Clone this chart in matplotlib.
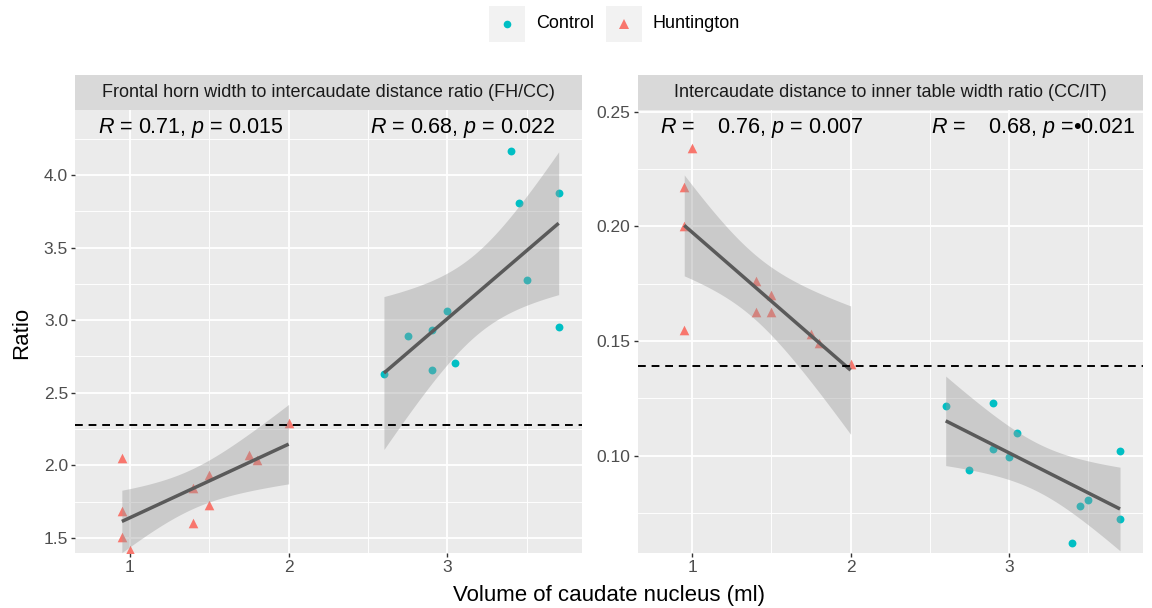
import numpy as np
import matplotlib
matplotlib.use("Agg")
import matplotlib.pyplot as plt
from matplotlib.patches import Rectangle
from matplotlib.lines import Line2D
from matplotlib.ticker import MultipleLocator

plt.rcParams["font.family"] = ["Liberation Sans", "DejaVu Sans"]
plt.rcParams["mathtext.fontset"] = "custom"
plt.rcParams["mathtext.rm"] = "Liberation Sans"
plt.rcParams["mathtext.it"] = "Liberation Sans:italic"

# volumes (ml)
HD_X = [0.95, 0.95, 0.95, 1.0, 1.4, 1.4, 1.5, 1.5, 1.75, 1.8, 2.0]
CTRL_X = [2.6, 2.75, 2.9, 2.9, 3.0, 3.05, 3.4, 3.45, 3.5, 3.7, 3.7]

# FH/CC ratio
HD_FHCC = [2.05, 1.685, 1.505, 1.415, 1.605, 1.845, 1.935, 1.725, 2.07, 2.04, 2.29]
CTRL_FHCC = [2.63, 2.89, 2.935, 2.66, 3.06, 2.705, 4.165, 3.805, 3.275, 3.875, 2.95]

# CC/IT ratio
HD_CCIT = [0.217, 0.200, 0.155, 0.234, 0.1625, 0.176, 0.170, 0.1625, 0.153, 0.149, 0.140]
CTRL_CCIT = [0.1217, 0.0936, 0.1229, 0.1028, 0.0993, 0.110, 0.0618, 0.0783, 0.0807, 0.1021, 0.0723]

TITLES = ["Frontal horn width to intercaudate distance ratio (FH/CC)",
          "Intercaudate distance to inner table width ratio (CC/IT)"]
CUTOFFS = [2.28, 0.139]
LABELS = [["$R$ = 0.71, $p$ = 0.015", "$R$ = 0.68, $p$ = 0.022"],
          ["$R$ =    0.76, $p$ = 0.007", "$R$ =    0.68, $p$ =\u20220.021"]]
LABEL_X = [0.80, 2.51]
YLIMS = [(1.397, 4.447), (0.0576, 0.2507)]
YMAJOR = [0.5, 0.05]

CTRL_COL = "#00BFC4"
HD_COL = "#F8766D"
T_CRIT = 2.262  # t(0.975, df=9), n=11 per group

W, H = 1152, 608
fig = plt.figure(figsize=(W / 100, H / 100), dpi=100)


def smooth(ax, xs, ys):
    x = np.asarray(xs)
    y = np.asarray(ys)
    n = len(x)
    b, a = np.polyfit(x, y, 1)
    resid = y - (a + b * x)
    s = np.sqrt(np.sum(resid ** 2) / (n - 2))
    sxx = np.sum((x - x.mean()) ** 2)
    xx = np.linspace(x.min(), x.max(), 80)
    yy = a + b * xx
    se = s * np.sqrt(1 / n + (xx - x.mean()) ** 2 / sxx)
    ax.fill_between(xx, yy - T_CRIT * se, yy + T_CRIT * se, color="#999999", alpha=0.4, lw=0, zorder=3)
    ax.plot(xx, yy, color="#5a5a5a", lw=2.5, zorder=4, solid_capstyle="butt")


panels = [(HD_FHCC, CTRL_FHCC), (HD_CCIT, CTRL_CCIT)]
lefts = [75, 637.5]
widths = [506.7, 505.5]
for i, (hd_y, ctrl_y) in enumerate(panels):
    x0 = lefts[i] / W
    w = widths[i] / W
    ax = fig.add_axes([x0, 1 - 553 / H, w, 443 / H])
    ax.set_facecolor("#EBEBEB")
    for sp in ax.spines.values():
        sp.set_visible(False)
    ax.set_xlim(0.655, 3.845)
    ax.set_ylim(*YLIMS[i])
    ax.xaxis.set_major_locator(MultipleLocator(1))
    ax.xaxis.set_minor_locator(MultipleLocator(0.5))
    ax.yaxis.set_major_locator(MultipleLocator(YMAJOR[i]))
    ax.yaxis.set_minor_locator(MultipleLocator(YMAJOR[i] / 2))
    if i == 1:
        ax.yaxis.set_major_formatter(matplotlib.ticker.FormatStrFormatter("%.2f"))
    else:
        ax.yaxis.set_major_formatter(matplotlib.ticker.FormatStrFormatter("%.1f"))
    ax.grid(True, which="major", color="white", lw=1.3, zorder=0)
    ax.grid(True, which="minor", color="white", lw=0.65, zorder=0)
    ax.set_axisbelow(True)
    ax.tick_params(which="major", length=3, width=1, color="#333333", labelsize=12.5,
                   labelcolor="#4D4D4D", pad=2)
    ax.tick_params(which="minor", length=0)

    ax.scatter(CTRL_X, ctrl_y, s=32, color=CTRL_COL, marker="o", lw=0, zorder=2)
    ax.scatter(HD_X, hd_y, s=48, color=HD_COL, marker="^", lw=0, zorder=2)
    smooth(ax, HD_X, hd_y)
    smooth(ax, CTRL_X, ctrl_y)
    ax.axhline(CUTOFFS[i], color="black", lw=1.4, ls=(0, (4, 3)), zorder=5)

    trans = matplotlib.transforms.blended_transform_factory(ax.transData, ax.transAxes)
    for lab, lx in zip(LABELS[i], LABEL_X):
        ax.text(lx, 0.959, lab, transform=trans, fontsize=15.5, ha="left", va="center",
                color="black", zorder=6)

    sax = fig.add_axes([x0, 1 - 110 / H, w, 35 / H])
    sax.set_facecolor("#D9D9D9")
    sax.set_xticks([])
    sax.set_yticks([])
    for sp in sax.spines.values():
        sp.set_visible(False)
    sax.text(0.5, 0.5, TITLES[i], ha="center", va="center", fontsize=13, color="#1A1A1A",
             transform=sax.transAxes)

fig.text(22 / W, 1 - 333 / H, "Ratio", rotation=90, ha="center", va="center", fontsize=16)
fig.text(609 / W, 1 - 596 / H, "Volume of caudate nucleus (ml)", ha="center", va="center", fontsize=16)

# legend
for bx, col, mk, ms, name in [(489, CTRL_COL, "o", 5.5, "Control"), (606, HD_COL, "^", 7, "Huntington")]:
    fig.add_artist(Rectangle((bx / W, 1 - 42 / H), 36 / W, 36 / H, transform=fig.transFigure,
                             facecolor="#F2F2F2", edgecolor="none"))
    fig.add_artist(Line2D([(bx + 18) / W], [1 - 24 / H], transform=fig.transFigure, marker=mk,
                          markersize=ms, color=col, markeredgewidth=0, linestyle="none"))
    fig.text((bx + 47) / W, 1 - 24 / H, name, ha="left", va="center", fontsize=13, color="black")

fig.savefig("out.png", dpi=100)
